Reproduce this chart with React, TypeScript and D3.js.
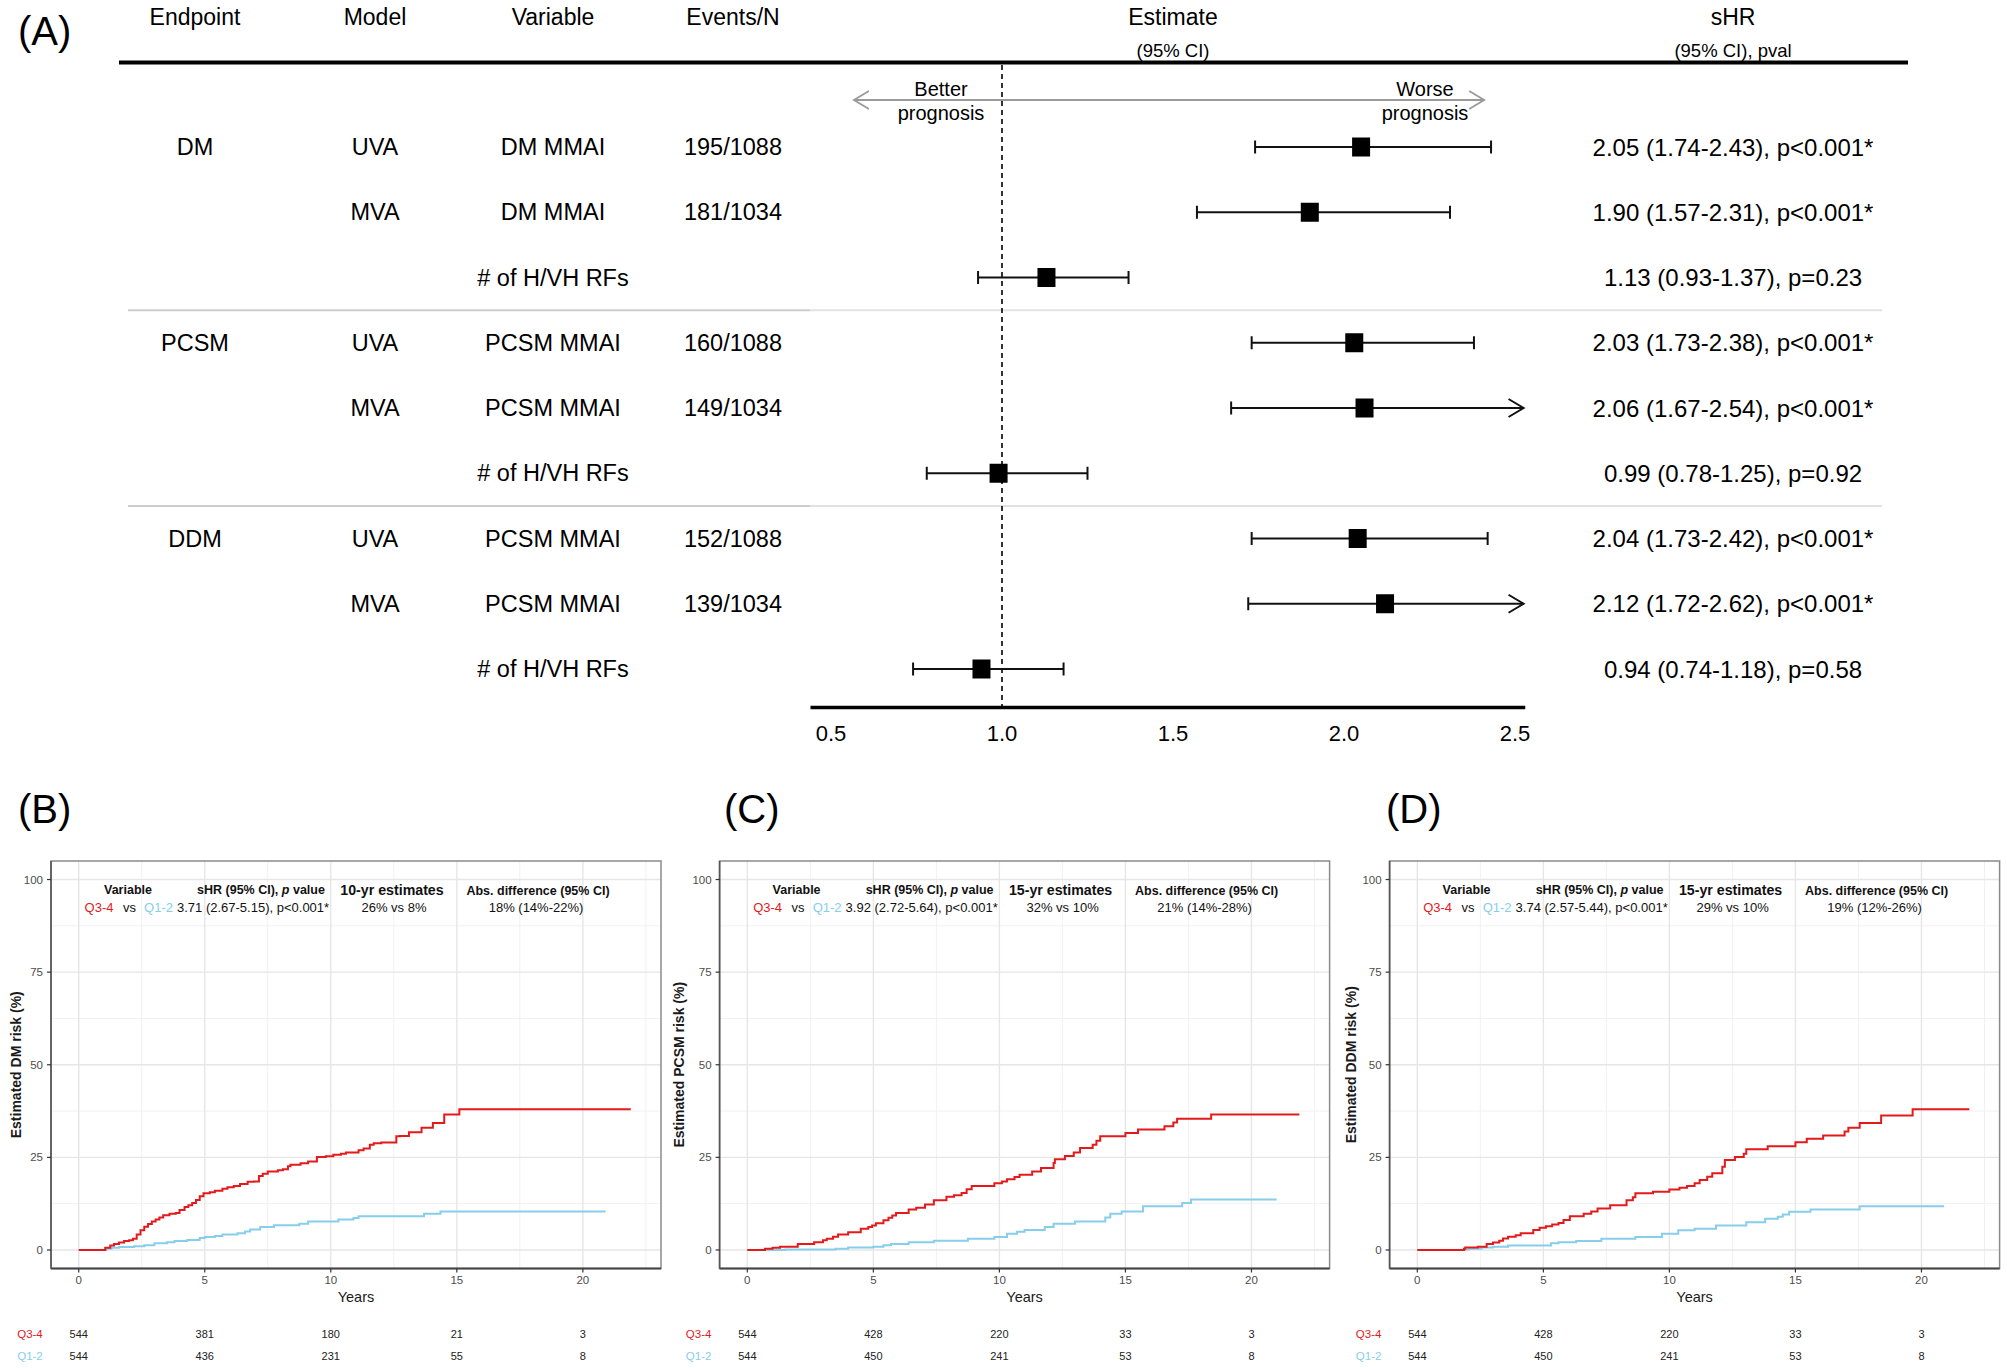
import React from "react";
import * as d3 from "d3";

const W = 2007;
const H = 1368;
const FONT = "'Liberation Sans', Arial, Helvetica, sans-serif";
const RED = "#E31A1C";
const BLUE = "#87CEEB";

// ---------------- Panel A: forest plot data ----------------
const forestHeaders = ["Endpoint", "Model", "Variable", "Events/N"];
const endpoints = ["DM", "", "", "PCSM", "", "", "DDM", "", ""];
const models = ["UVA", "MVA", "", "UVA", "MVA", "", "UVA", "MVA", ""];
const variables = [
  "DM MMAI", "DM MMAI", "# of H/VH RFs",
  "PCSM MMAI", "PCSM MMAI", "# of H/VH RFs",
  "PCSM MMAI", "PCSM MMAI", "# of H/VH RFs",
];
const eventsN = ["195/1088", "181/1034", "", "160/1088", "149/1034", "", "152/1088", "139/1034", ""];
const hrEstimate = [2.05, 1.9, 1.13, 2.03, 2.06, 0.99, 2.04, 2.12, 0.94];
const hrLower = [1.74, 1.57, 0.93, 1.73, 1.67, 0.78, 1.73, 1.72, 0.74];
const hrUpper = [2.43, 2.31, 1.37, 2.38, 2.54, 1.25, 2.42, 2.62, 1.18];
const hrPval = ["p<0.001*", "p<0.001*", "p=0.23", "p<0.001*", "p<0.001*", "p=0.92", "p<0.001*", "p<0.001*", "p=0.58"];
const forestTicks = [0.5, 1.0, 1.5, 2.0, 2.5];

// ---------------- Panels B-D: cumulative incidence data ----------------
const dmHigh = [
  [0, 0], [1.05, 0.6], [1.25, 1.2], [1.4, 1.6], [1.6, 2.0], [1.8, 2.4], [2.0, 2.6], [2.15, 3.0],
  [2.3, 4.2], [2.45, 5.3], [2.6, 6.3], [2.75, 7.0], [2.9, 7.7], [3.05, 8.2], [3.2, 8.8], [3.35, 9.4],
  [3.6, 9.8], [3.85, 10.0], [4.0, 10.8], [4.2, 11.6], [4.35, 12.1], [4.5, 12.7], [4.65, 13.5],
  [4.8, 14.5], [4.95, 15.3], [5.2, 15.6], [5.4, 16.0], [5.7, 16.5], [5.9, 16.9], [6.15, 17.3],
  [6.4, 17.8], [6.7, 18.4], [6.95, 18.5], [7.15, 20.0], [7.3, 20.6], [7.5, 21.2], [7.9, 21.5],
  [8.1, 21.8], [8.3, 22.6], [8.4, 23.0], [8.8, 23.4], [9.1, 23.9], [9.45, 25.1], [9.8, 25.3],
  [10.1, 25.7], [10.4, 26.0], [10.6, 26.3], [11.1, 26.9], [11.3, 27.4], [11.55, 28.4], [11.7, 28.8],
  [12.0, 29.0], [12.6, 30.7], [12.75, 30.8], [13.1, 31.8], [13.6, 33.0], [14.05, 34.3], [14.5, 36.6],
  [15.1, 38.0], [21.9, 38.0],
];
const dmLow = [
  [0, 0], [1.1, 0.3], [1.3, 0.6], [1.6, 0.8], [2.2, 1.0], [2.6, 1.3], [3.0, 1.8], [3.5, 2.1],
  [3.8, 2.4], [4.3, 2.7], [4.8, 3.2], [5.0, 3.5], [5.4, 3.8], [5.7, 4.2], [6.3, 4.5], [6.6, 5.0],
  [6.8, 5.5], [7.2, 6.2], [7.75, 6.7], [8.75, 7.1], [9.1, 7.7], [10.3, 8.2], [10.9, 8.6], [11.1, 9.1],
  [13.7, 9.8], [14.35, 10.4], [20.9, 10.4],
];
const pcsmHigh = [
  [0, 0], [0.7, 0.3], [1.0, 0.6], [1.3, 0.9], [2.0, 1.6], [2.65, 2.1], [3.0, 2.6], [3.15, 3.0],
  [3.4, 3.6], [3.6, 4.2], [4.0, 4.8], [4.5, 5.7], [4.8, 6.2], [4.95, 6.6], [5.1, 7.2], [5.4, 8.0],
  [5.6, 8.7], [5.75, 9.3], [5.9, 10.0], [6.4, 10.9], [6.7, 11.4], [7.05, 12.3], [7.4, 13.4],
  [7.9, 14.4], [8.2, 14.8], [8.5, 15.4], [8.7, 16.4], [8.9, 17.3], [9.8, 18.0], [10.1, 18.5],
  [10.3, 19.1], [10.6, 19.7], [10.8, 20.3], [11.3, 21.2], [11.65, 22.1], [12.15, 23.5], [12.2, 24.5],
  [12.6, 25.4], [12.95, 26.3], [13.2, 27.5], [13.7, 28.4], [13.85, 29.5], [14.0, 30.7], [15.0, 31.6],
  [15.5, 32.5], [16.55, 33.4], [16.9, 34.4], [17.05, 35.4], [18.4, 36.6], [21.9, 36.6],
];
const pcsmLow = [
  [0, 0], [1.5, 0.1], [3.5, 0.3], [4.0, 0.7], [5.0, 0.9], [5.4, 1.3], [5.7, 1.6], [6.4, 2.1],
  [7.4, 2.5], [8.75, 3.0], [9.8, 3.5], [10.3, 4.4], [10.7, 4.9], [11.0, 5.4], [11.8, 6.2],
  [12.15, 7.1], [13.0, 7.7], [14.2, 8.8], [14.4, 9.8], [14.85, 10.4], [15.7, 11.8], [17.25, 12.7],
  [17.6, 13.6], [21.0, 13.6],
];
const ddmHigh = [
  [0, 0], [1.85, 0.3], [1.9, 0.7], [2.4, 0.9], [2.75, 1.6], [3.0, 2.0], [3.25, 2.5], [3.4, 3.1],
  [3.6, 3.6], [3.9, 4.0], [4.1, 4.5], [4.6, 5.4], [4.85, 6.0], [5.1, 6.4], [5.35, 6.9], [5.6, 7.3],
  [5.8, 8.1], [6.05, 9.1], [6.6, 9.8], [6.9, 10.4], [7.15, 11.2], [7.65, 12.1], [8.3, 13.4],
  [8.55, 14.2], [8.65, 15.3], [9.35, 15.7], [10.0, 16.3], [10.4, 16.8], [10.7, 17.3], [11.0, 18.0],
  [11.2, 18.9], [11.5, 19.8], [11.7, 20.7], [12.1, 22.5], [12.2, 24.3], [12.6, 25.1], [12.95, 26.0],
  [13.05, 27.2], [13.9, 28.0], [15.0, 29.1], [15.45, 30.0], [16.1, 30.9], [16.95, 32.0], [17.1, 33.0],
  [17.55, 34.3], [18.4, 36.3], [19.65, 38.0], [21.9, 38.0],
];
const ddmLow = [
  [0, 0], [1.9, 0.1], [2.05, 0.3], [2.55, 0.7], [3.0, 0.9], [3.6, 1.2], [5.3, 1.8], [5.6, 2.1],
  [6.3, 2.4], [7.3, 3.0], [8.65, 3.5], [9.7, 4.4], [10.35, 5.3], [11.0, 5.7], [11.85, 6.6],
  [13.05, 7.5], [13.8, 8.4], [14.3, 9.0], [14.5, 9.6], [14.75, 10.3], [15.6, 10.9], [17.55, 11.8],
  [20.9, 11.8],
];

const riskYears = [0, 5, 10, 15, 20];
const dmRiskHigh = [544, 381, 180, 21, 3];
const dmRiskLow = [544, 436, 231, 55, 8];
const pcsmRiskHigh = [544, 428, 220, 33, 3];
const pcsmRiskLow = [544, 450, 241, 53, 8];
const ddmRiskHigh = [544, 428, 220, 33, 3];
const ddmRiskLow = [544, 450, 241, 53, 8];

const yTicks = [0, 25, 50, 75, 100];
const yMinor = [12.5, 37.5, 62.5, 87.5];
const xTicks = [0, 5, 10, 15, 20];
const xMinor = [2.5, 7.5, 12.5, 17.5, 22.5];

const panelLabels = ["(B)", "(C)", "(D)"];
const yTitles = ["Estimated DM risk (%)", "Estimated PCSM risk (%)", "Estimated DDM risk (%)"];
const shrTexts = ["3.71 (2.67-5.15), p<0.001*", "3.92 (2.72-5.64), p<0.001*", "3.74 (2.57-5.44), p<0.001*"];
const estHeaders = ["10-yr estimates", "15-yr estimates", "15-yr estimates"];
const estTexts = ["26% vs 8%", "32% vs 10%", "29% vs 10%"];
const diffTexts = ["18% (14%-22%)", "21% (14%-28%)", "19% (12%-26%)"];

// ---------------- Forest plot ----------------
function Forest() {
  const fx = d3.scaleLinear().domain([0.5, 2.5]).range([831, 1515]);
  const rowY = d3.scaleLinear().domain([0, 8]).range([147, 669]);
  const colX = [195, 375, 553, 733];
  const shrX = 1733;
  const clipMax = 2.525;
  const sepRows = [2.5, 5.5];
  const axisY = 707.5;
  return (
    <g fontFamily={FONT} fill="#000">
      <text x={18} y={31} fontSize={40} dominantBaseline="central">(A)</text>
      {forestHeaders.map((h, i) => (
        <text key={h} x={colX[i]} y={17} fontSize={23} textAnchor="middle" dominantBaseline="central">{h}</text>
      ))}
      <text x={1173} y={17} fontSize={23} textAnchor="middle" dominantBaseline="central">Estimate</text>
      <text x={1173} y={50} fontSize={18.5} textAnchor="middle" dominantBaseline="central">(95% CI)</text>
      <text x={shrX} y={17} fontSize={23} textAnchor="middle" dominantBaseline="central">sHR</text>
      <text x={shrX} y={50} fontSize={18.5} textAnchor="middle" dominantBaseline="central">(95% CI), pval</text>
      <line x1={119} x2={1908} y1={62.5} y2={62.5} stroke="#000" strokeWidth={4} />

      {sepRows.map((r) => (
        <g key={r}>
          <line x1={128} x2={810} y1={rowY(r)} y2={rowY(r)} stroke="#cdcdcd" strokeWidth={2} />
          <line x1={810} x2={1882} y1={rowY(r)} y2={rowY(r)} stroke="#e2e2e2" strokeWidth={2} />
        </g>
      ))}

      {/* prognosis arrow */}
      <g stroke="#9a9a9a" strokeWidth={1.8} fill="none">
        <line x1={fx(0.567)} x2={fx(2.41)} y1={100} y2={100} />
        <polyline points={`${fx(0.567) + 15},${91} ${fx(0.567)},${100} ${fx(0.567) + 15},${109}`} />
        <polyline points={`${fx(2.41) - 15},${91} ${fx(2.41)},${100} ${fx(2.41) - 15},${109}`} />
      </g>
      <text x={941} y={89} fontSize={20} textAnchor="middle" dominantBaseline="central">Better</text>
      <text x={941} y={113} fontSize={20} textAnchor="middle" dominantBaseline="central">prognosis</text>
      <text x={1425} y={89} fontSize={20} textAnchor="middle" dominantBaseline="central">Worse</text>
      <text x={1425} y={113} fontSize={20} textAnchor="middle" dominantBaseline="central">prognosis</text>

      <line x1={fx(1)} x2={fx(1)} y1={65} y2={axisY} stroke="#000" strokeWidth={1.6} strokeDasharray="5,4" />

      {hrEstimate.map((est, i) => {
        const y = rowY(i);
        const lo = hrLower[i];
        const hi = hrUpper[i];
        const clipped = hi > clipMax;
        const xEnd = fx(clipped ? clipMax : hi);
        return (
          <g key={i}>
            <text x={colX[0]} y={y} fontSize={23.5} textAnchor="middle" dominantBaseline="central">{endpoints[i]}</text>
            <text x={colX[1]} y={y} fontSize={23.5} textAnchor="middle" dominantBaseline="central">{models[i]}</text>
            <text x={colX[2]} y={y} fontSize={23.5} textAnchor="middle" dominantBaseline="central">{variables[i]}</text>
            <text x={colX[3]} y={y} fontSize={23.5} textAnchor="middle" dominantBaseline="central">{eventsN[i]}</text>
            <line x1={fx(lo)} x2={xEnd} y1={y} y2={y} stroke="#111" strokeWidth={2.2} />
            <line x1={fx(lo)} x2={fx(lo)} y1={y - 6.5} y2={y + 6.5} stroke="#111" strokeWidth={2} />
            {clipped ? (
              <polyline points={`${xEnd - 15},${y - 9} ${xEnd},${y} ${xEnd - 15},${y + 9}`} fill="none" stroke="#111" strokeWidth={2} />
            ) : (
              <line x1={xEnd} x2={xEnd} y1={y - 6.5} y2={y + 6.5} stroke="#111" strokeWidth={2} />
            )}
            <rect x={fx(est) - 9} y={y - 9.5} width={18} height={19} fill="#000" />
            <text x={shrX} y={y} fontSize={24} textAnchor="middle" dominantBaseline="central">
              {`${est.toFixed(2)} (${lo.toFixed(2)}-${hi.toFixed(2)}), ${hrPval[i]}`}
            </text>
          </g>
        );
      })}

      <line x1={fx(0.44)} x2={fx(2.53)} y1={axisY} y2={axisY} stroke="#000" strokeWidth={3.5} />
      {forestTicks.map((t) => (
        <text key={t} x={fx(t)} y={733} fontSize={22} textAnchor="middle" dominantBaseline="central">{t.toFixed(1)}</text>
      ))}
    </g>
  );
}

// ---------------- KM panel ----------------
type PanelProps = {
  idx: number;
  left: number;
  labelX: number;
  yTitleX: number;
  high: number[][];
  low: number[][];
  riskHigh: number[];
  riskLow: number[];
};

function KMPanel({ idx, left, labelX, yTitleX, high, low, riskHigh, riskLow }: PanelProps) {
  const top = 861;
  const bottom = 1268.5;
  const width = 610;
  const x = d3.scaleLinear().domain([-1.1, 23.1]).range([left, left + width]);
  const y = d3.scaleLinear().domain([-5, 105]).range([bottom, top]);
  const line = d3
    .line<number[]>()
    .x((d) => x(d[0]))
    .y((d) => y(d[1]))
    .curve(d3.curveStepAfter);
  const L = left;
  return (
    <g fontFamily={FONT}>
      <text x={labelX} y={809} fontSize={40} dominantBaseline="central" fill="#000">{panelLabels[idx]}</text>
      {/* grid */}
      {yMinor.map((v) => (
        <line key={"ym" + v} x1={left} x2={left + width} y1={y(v)} y2={y(v)} stroke="#f1f1f1" strokeWidth={1} />
      ))}
      {xMinor.map((v) => (
        <line key={"xm" + v} x1={x(v)} x2={x(v)} y1={top} y2={bottom} stroke="#f1f1f1" strokeWidth={1} />
      ))}
      {yTicks.map((v) => (
        <line key={"yM" + v} x1={left} x2={left + width} y1={y(v)} y2={y(v)} stroke="#e6e6e6" strokeWidth={1.4} />
      ))}
      {xTicks.map((v) => (
        <line key={"xM" + v} x1={x(v)} x2={x(v)} y1={top} y2={bottom} stroke="#e6e6e6" strokeWidth={1.4} />
      ))}
      <rect x={left} y={top} width={width} height={bottom - top} fill="none" stroke="#8a8a8a" strokeWidth={1.5} />
      <line x1={left} x2={left + width} y1={bottom} y2={bottom} stroke="#444" strokeWidth={2} />
      <line x1={left} x2={left} y1={top} y2={bottom} stroke="#555" strokeWidth={1.6} />

      {/* axes */}
      {yTicks.map((v) => (
        <g key={"yt" + v}>
          <line x1={left - 4} x2={left} y1={y(v)} y2={y(v)} stroke="#333" strokeWidth={1.2} />
          <text x={left - 8} y={y(v)} fontSize={11.5} fill="#4d4d4d" textAnchor="end" dominantBaseline="central">{v}</text>
        </g>
      ))}
      {xTicks.map((v) => (
        <g key={"xt" + v}>
          <line x1={x(v)} x2={x(v)} y1={bottom} y2={bottom + 4} stroke="#333" strokeWidth={1.2} />
          <text x={x(v)} y={1280} fontSize={11.5} fill="#4d4d4d" textAnchor="middle" dominantBaseline="central">{v}</text>
        </g>
      ))}
      <text x={L + width / 2} y={1296.5} fontSize={14.5} fill="#1a1a1a" textAnchor="middle" dominantBaseline="central">Years</text>
      <text
        transform={`translate(${yTitleX},${(top + bottom) / 2}) rotate(-90)`}
        fontSize={14}
        fontWeight="bold"
        fill="#1a1a1a"
        textAnchor="middle"
        dominantBaseline="central"
      >
        {yTitles[idx]}
      </text>

      {/* curves */}
      <path d={line(low) || ""} fill="none" stroke={BLUE} strokeWidth={2} />
      <path d={line(high) || ""} fill="none" stroke={RED} strokeWidth={2} />

      {/* annotation */}
      <g fill="#111">
        <text x={L + 77} y={890} fontSize={12.5} fontWeight="bold" textAnchor="middle" dominantBaseline="central">Variable</text>
        <text x={L + 210} y={890} fontSize={12.5} fontWeight="bold" textAnchor="middle" dominantBaseline="central">
          sHR (95% CI), <tspan fontStyle="italic">p</tspan> value
        </text>
        <text x={L + 341} y={890} fontSize={14.2} fontWeight="bold" textAnchor="middle" dominantBaseline="central">{estHeaders[idx]}</text>
        <text x={L + 487} y={891} fontSize={12.5} fontWeight="bold" textAnchor="middle" dominantBaseline="central">Abs. difference (95% CI)</text>
        <text x={L + 48} y={907} fontSize={13} fill={RED} textAnchor="middle" dominantBaseline="central">Q3-4</text>
        <text x={L + 78.5} y={907} fontSize={13} textAnchor="middle" dominantBaseline="central">vs</text>
        <text x={L + 107.5} y={907} fontSize={13} fill={BLUE} textAnchor="middle" dominantBaseline="central">Q1-2</text>
        <text x={L + 126} y={907} fontSize={13} textAnchor="start" dominantBaseline="central">{shrTexts[idx]}</text>
        <text x={L + 343} y={907} fontSize={13} textAnchor="middle" dominantBaseline="central">{estTexts[idx]}</text>
        <text x={L + 485} y={907} fontSize={13} textAnchor="middle" dominantBaseline="central">{diffTexts[idx]}</text>
      </g>

      {/* risk table */}
      <text x={L - 21} y={1334} fontSize={11.5} fill={RED} textAnchor="middle" dominantBaseline="central">Q3-4</text>
      <text x={L - 21} y={1356} fontSize={11.5} fill={BLUE} textAnchor="middle" dominantBaseline="central">Q1-2</text>
      {riskYears.map((t, i) => (
        <g key={"r" + t}>
          <text x={x(t)} y={1334} fontSize={11} fill="#222" textAnchor="middle" dominantBaseline="central">{riskHigh[i]}</text>
          <text x={x(t)} y={1356} fontSize={11} fill="#222" textAnchor="middle" dominantBaseline="central">{riskLow[i]}</text>
        </g>
      ))}
    </g>
  );
}

export default function App() {
  return (
    <svg
      width={W}
      height={H}
      viewBox={`0 0 ${W} ${H}`}
      style={{ position: "absolute", left: 0, top: 0, background: "#fff" }}
    >
      <rect x={0} y={0} width={W} height={H} fill="#fff" />
      <Forest />
      <KMPanel idx={0} left={51} labelX={18} yTitleX={16} high={dmHigh} low={dmLow} riskHigh={dmRiskHigh} riskLow={dmRiskLow} />
      <KMPanel idx={1} left={719.6} labelX={724} yTitleX={679} high={pcsmHigh} low={pcsmLow} riskHigh={pcsmRiskHigh} riskLow={pcsmRiskLow} />
      <KMPanel idx={2} left={1389.6} labelX={1386} yTitleX={1351} high={ddmHigh} low={ddmLow} riskHigh={ddmRiskHigh} riskLow={ddmRiskLow} />
    </svg>
  );
}
